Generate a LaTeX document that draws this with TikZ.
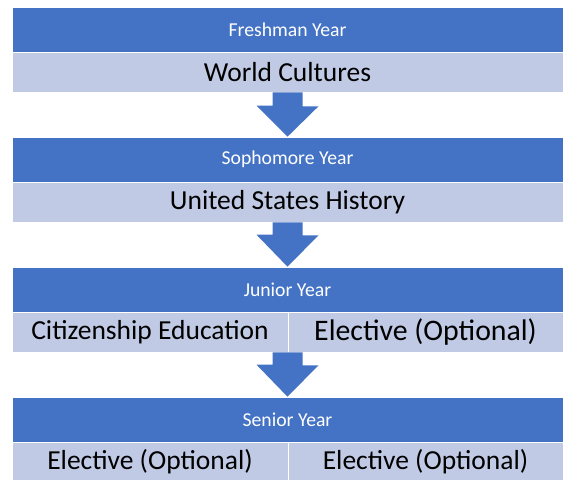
\documentclass[tikz,border=0pt]{standalone}
\usepackage{fontspec}
\setmainfont{Carlito}
\definecolor{hdr}{HTML}{4472C4}
\definecolor{band}{HTML}{C1CAE5}
\tikzset{
  hdrbox/.style={fill=hdr, draw=white, line width=0.6pt, inner sep=0pt, text=white, font=\fontsize{19.7}{22}\selectfont},
  bandbox/.style={fill=band, draw=white, line width=0.6pt, inner sep=0pt, text=black, font=\fontsize{27.5}{30}\selectfont},
  flowarrow/.style={fill=hdr, draw=none}
}
\begin{document}
\begin{tikzpicture}[x=1pt,y=-1pt]
\useasboundingbox (0,0) rectangle (564,479);
% Freshman
\node[hdrbox, minimum width=551pt, minimum height=45pt] (h1) at (287.5,29.5) {Freshman Year};
\node[bandbox, minimum width=551pt, minimum height=40pt] (b1) at (287.5,72) {World Cultures};
% Sophomore
\node[hdrbox, minimum width=551pt, minimum height=45pt] (h2) at (287.5,159.5) {Sophomore Year};
\node[bandbox, minimum width=551pt, minimum height=40pt] (b2) at (287.5,202) {United States History};
% Junior
\node[hdrbox, minimum width=551pt, minimum height=45pt] (h3) at (287.5,289.5) {Junior Year};
\node[bandbox, minimum width=276pt, minimum height=40pt] (b3a) at (150,332) {Citizenship Education};
\node[bandbox, minimum width=275pt, minimum height=40pt, font=\fontsize{29.8}{32}\selectfont] (b3b) at (425.5,332) {Elective (Optional)};
% Senior
\node[hdrbox, minimum width=551pt, minimum height=45pt] (h4) at (287.5,419.5) {Senior Year};
\node[bandbox, minimum width=276pt, minimum height=40pt] (b4a) at (150,462) {Elective (Optional)};
\node[bandbox, minimum width=275pt, minimum height=40pt] (b4b) at (425.5,462) {Elective (Optional)};
% arrows
\fill[flowarrow] (b1.south -| h1.center) ++(-15,0) -- ++(30,0) -- ++(0,14) -- ++(16,0) -- (h2.north -| h1.center) -- ++(-31,-31) -- ++(16,0) -- cycle;
\fill[flowarrow] (b2.south -| h1.center) ++(-15,0) -- ++(30,0) -- ++(0,13) -- ++(16,0) -- (h3.north -| h1.center) -- ++(-31,-32) -- ++(16,0) -- cycle;
\fill[flowarrow] (b3a.south -| h1.center) ++(-15,0) -- ++(30,0) -- ++(0,13) -- ++(16,0) -- (h4.north -| h1.center) -- ++(-31,-32) -- ++(16,0) -- cycle;
\end{tikzpicture}
\end{document}
